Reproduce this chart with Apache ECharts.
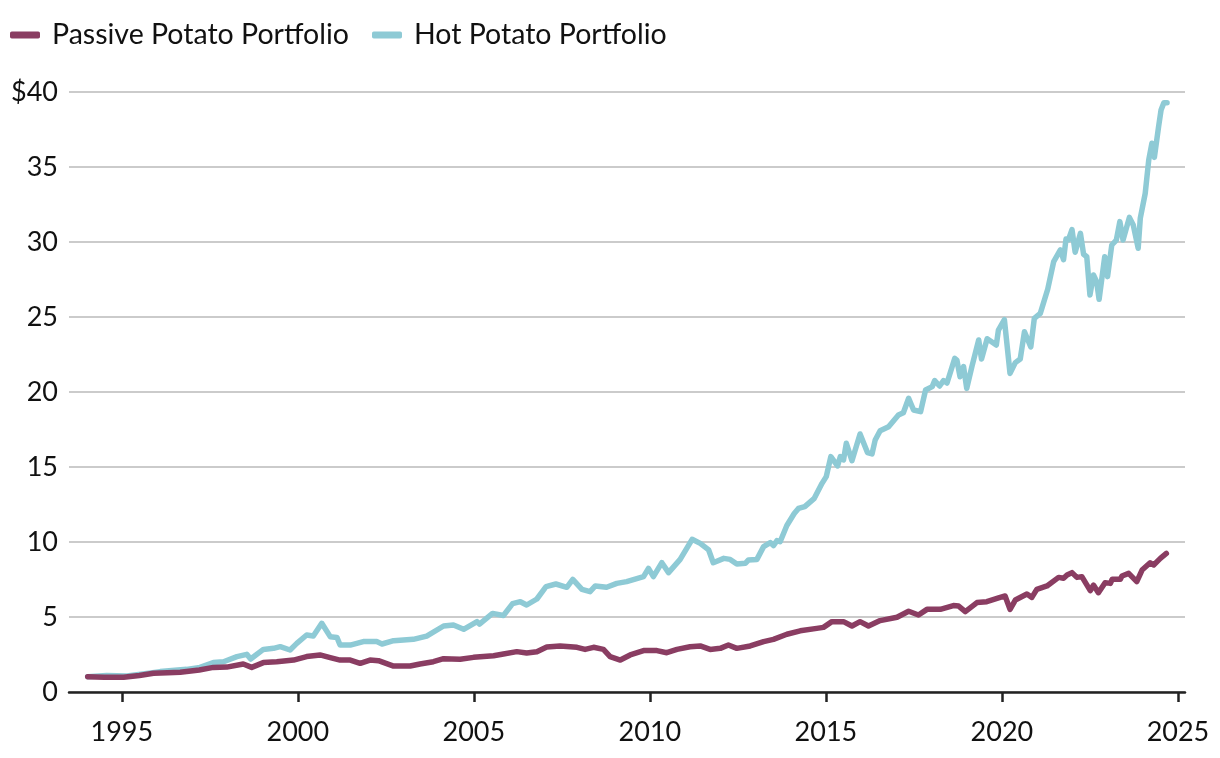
<!DOCTYPE html>
<html>
<head>
<meta charset="utf-8">
<script src="https://cdn.jsdelivr.net/npm/echarts@6/dist/echarts.min.js"></script>
<style>
  html, body { margin: 0; padding: 0; background: #fff; }
  #chart { width: 1220px; height: 758px; }
</style>
</head>
<body>
<div id="chart"></div>
<script>
const seriesNames = ['Passive Potato Portfolio', 'Hot Potato Portfolio'];
const yearTicks = [1995, 2000, 2005, 2010, 2015, 2020, 2025];

const passiveYears = [1994.03,1994.5,1995.05,1995.5,1995.9,1996.3,1996.66,1997.2,1997.6,1997.98,1998.45,1998.69,1999.02,1999.4,1999.88,2000.25,2000.63,2000.92,2001.2,2001.49,2001.77,2002.05,2002.29,2002.72,2003.19,2003.47,2003.85,2004.14,2004.61,2004.99,2005.56,2005.84,2006.22,2006.5,2006.79,2007.07,2007.45,2007.93,2008.16,2008.4,2008.68,2008.87,2009.16,2009.44,2009.82,2010.2,2010.48,2010.77,2011.14,2011.43,2011.71,2012.0,2012.23,2012.47,2012.85,2013.23,2013.51,2013.89,2014.27,2014.74,2014.93,2015.17,2015.5,2015.74,2015.97,2016.21,2016.54,2017.02,2017.35,2017.63,2017.87,2018.25,2018.62,2018.77,2018.96,2019.29,2019.57,2019.95,2020.09,2020.23,2020.38,2020.71,2020.85,2020.99,2021.28,2021.61,2021.75,2021.85,2021.99,2022.13,2022.27,2022.51,2022.6,2022.74,2022.93,2023.08,2023.13,2023.36,2023.41,2023.6,2023.83,2023.98,2024.21,2024.31,2024.5,2024.67];
const passiveValues = [1.02,0.98,0.98,1.1,1.25,1.28,1.31,1.47,1.64,1.66,1.87,1.64,1.96,2.02,2.13,2.36,2.47,2.29,2.13,2.13,1.91,2.13,2.09,1.73,1.73,1.87,2.02,2.22,2.18,2.31,2.42,2.53,2.69,2.6,2.69,3.0,3.07,2.98,2.84,2.98,2.84,2.36,2.13,2.47,2.76,2.76,2.62,2.84,3.02,3.07,2.84,2.91,3.13,2.91,3.07,3.36,3.51,3.85,4.08,4.24,4.31,4.69,4.69,4.4,4.69,4.4,4.76,4.98,5.38,5.13,5.51,5.51,5.76,5.73,5.36,5.96,6.02,6.31,6.4,5.51,6.13,6.53,6.31,6.84,7.07,7.64,7.58,7.8,7.96,7.64,7.69,6.76,7.13,6.62,7.29,7.24,7.51,7.51,7.73,7.91,7.36,8.13,8.62,8.47,8.91,9.24];

const hotYears = [1994.03,1994.57,1995.14,1995.6,1996.09,1996.84,1997.22,1997.6,1997.89,1998.27,1998.55,1998.66,1999.02,1999.31,1999.5,1999.78,1999.97,2000.25,2000.44,2000.68,2000.92,2001.11,2001.2,2001.49,2001.86,2002.24,2002.39,2002.72,2003.28,2003.66,2004.14,2004.42,2004.71,2005.09,2005.16,2005.53,2005.84,2006.1,2006.32,2006.5,2006.79,2007.05,2007.33,2007.64,2007.81,2008.07,2008.3,2008.45,2008.77,2009.06,2009.34,2009.82,2009.96,2010.1,2010.34,2010.53,2010.86,2011.2,2011.43,2011.67,2011.8,2012.1,2012.28,2012.47,2012.71,2012.8,2013.04,2013.23,2013.42,2013.51,2013.61,2013.7,2013.89,2014.1,2014.22,2014.4,2014.67,2014.89,2015.01,2015.14,2015.33,2015.41,2015.5,2015.58,2015.74,2015.97,2016.18,2016.31,2016.4,2016.54,2016.78,2017.06,2017.2,2017.35,2017.49,2017.69,2017.83,2018.02,2018.09,2018.23,2018.34,2018.44,2018.66,2018.72,2018.81,2018.91,2019.0,2019.15,2019.34,2019.42,2019.58,2019.84,2019.9,2020.07,2020.23,2020.38,2020.52,2020.64,2020.82,2020.92,2021.09,2021.3,2021.47,2021.66,2021.75,2021.82,2021.89,2021.99,2022.08,2022.23,2022.32,2022.41,2022.5,2022.6,2022.69,2022.76,2022.92,2023.0,2023.12,2023.25,2023.35,2023.44,2023.62,2023.73,2023.87,2023.93,2024.07,2024.17,2024.26,2024.33,2024.45,2024.52,2024.6,2024.69];
const hotValues = [1.02,1.1,1.07,1.2,1.36,1.51,1.64,1.96,2.02,2.36,2.51,2.2,2.84,2.91,3.02,2.8,3.24,3.8,3.73,4.58,3.69,3.64,3.13,3.13,3.36,3.36,3.2,3.42,3.51,3.73,4.4,4.47,4.18,4.69,4.53,5.24,5.1,5.89,6.02,5.8,6.2,7.02,7.2,6.98,7.51,6.84,6.69,7.07,6.98,7.24,7.36,7.69,8.24,7.69,8.62,7.96,8.84,10.18,9.91,9.47,8.62,8.91,8.84,8.53,8.58,8.8,8.84,9.69,9.96,9.76,10.09,10.02,11.1,11.9,12.24,12.36,12.91,13.91,14.36,15.69,15.07,15.69,15.47,16.58,15.42,17.2,15.96,15.87,16.8,17.42,17.69,18.47,18.62,19.58,18.8,18.69,20.13,20.36,20.76,20.4,20.76,20.6,22.24,22.13,21.02,21.69,20.24,21.73,23.47,22.2,23.55,23.13,24.13,24.82,21.24,21.96,22.2,24.02,23.0,24.91,25.24,26.85,28.69,29.47,28.82,30.2,30.15,30.82,29.32,30.58,29.18,29.02,26.47,27.8,27.36,26.18,29.02,27.69,29.8,30.13,31.36,30.13,31.64,31.13,29.58,31.58,33.24,35.47,36.58,35.64,37.69,38.8,39.29,39.29];

const zip = (xs, ys) => xs.map((x, i) => [x, ys[i]]);
const FONT = 'Lato';
const purple = '#8a3d62';
const cyan = '#8ecad5';

const chart = echarts.init(document.getElementById('chart'));
const legendBase = {
  icon: 'roundRect',
  itemWidth: 30,
  itemHeight: 7,
  top: 15,
  textStyle: { fontFamily: FONT, fontSize: 28.5, color: '#111', padding: [0, 0, 0, 7], lineHeight: 30 },
  selectedMode: false
};
chart.setOption({
  animation: false,
  backgroundColor: '#fff',
  legend: [
    Object.assign({}, legendBase, { left: 5, data: [seriesNames[0]] }),
    Object.assign({}, legendBase, { left: 367, data: [seriesNames[1]] })
  ],
  grid: { left: 69, right: 35, top: 92, bottom: 66, containLabel: false },
  xAxis: {
    type: 'value',
    min: 1993.5,
    max: 2025.2,
    axisLine: { show: true, lineStyle: { color: '#222', width: 2.5 } },
    axisTick: { show: true, customValues: yearTicks, length: 10, lineStyle: { color: '#222', width: 2.5 } },
    axisLabel: { customValues: yearTicks, margin: 27, fontFamily: FONT, fontSize: 27, color: '#111', formatter: v => String(v) },
    splitLine: { show: false }
  },
  yAxis: {
    type: 'value',
    min: 0,
    max: 40,
    interval: 5,
    axisLine: { show: false },
    axisTick: { show: false },
    axisLabel: { margin: 11, fontFamily: FONT, fontSize: 27, color: '#111', formatter: v => v === 40 ? '$40' : String(v) },
    splitLine: { show: true, lineStyle: { color: '#cbcbcb', width: 2 } }
  },
  series: [
    {
      name: seriesNames[1],
      type: 'line',
      data: zip(hotYears, hotValues),
      showSymbol: false,
      symbol: 'none',
      itemStyle: { color: cyan },
      lineStyle: { color: cyan, width: 5.5, cap: 'round', join: 'round' },
      z: 2
    },
    {
      name: seriesNames[0],
      type: 'line',
      data: zip(passiveYears, passiveValues),
      showSymbol: false,
      symbol: 'none',
      itemStyle: { color: purple },
      lineStyle: { color: purple, width: 5.5, cap: 'round', join: 'round' },
      z: 3
    }
  ]
});
</script>
</body>
</html>
